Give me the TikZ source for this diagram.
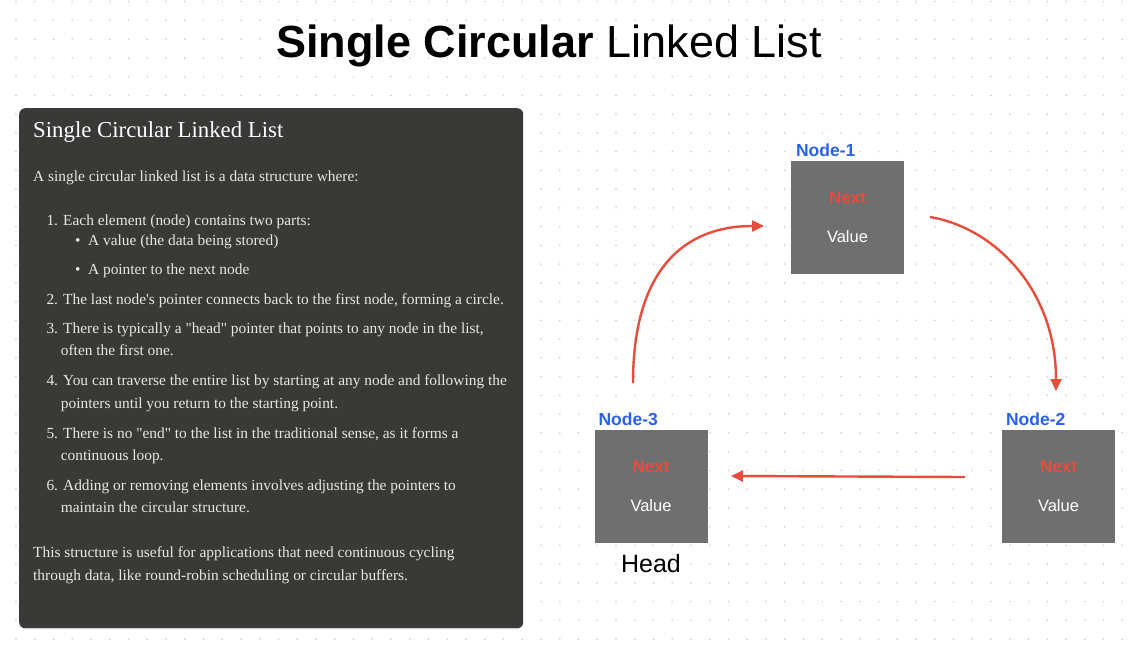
\documentclass[tikz,border=0pt]{standalone}
\usepackage{fontspec}
\usepackage{tikz}
\newfontfamily\headfont{Liberation Sans}
\newfontfamily\panelfont{Liberation Serif}
\definecolor{paneldark}{RGB}{57,57,55}
\definecolor{paneltext}{RGB}{230,230,228}
\definecolor{cellgray}{RGB}{111,111,111}
\definecolor{linkred}{RGB}{232,76,61}
\definecolor{labelblue}{RGB}{40,98,235}
\definecolor{dotgray}{RGB}{212,212,212}
\usetikzlibrary{arrows.meta,positioning,shadows}

\begin{document}
\begin{tikzpicture}[
    x=1pt, y=-1pt,
    cell/.style={rectangle, minimum width=113pt, minimum height=113pt, fill=cellgray, inner sep=0pt},
    nexttxt/.style={font=\headfont\bfseries\fontsize{17}{20}\selectfont, text=linkred},
    valtxt/.style={font=\headfont\fontsize{16.5}{20}\selectfont, text=white},
    tag/.style={font=\headfont\bfseries\fontsize{17.5}{20}\selectfont, text=labelblue, anchor=base west, inner sep=0pt},
    ptext/.style={font=\panelfont\fontsize{15.4}{18}\selectfont, text=paneltext, anchor=base west, inner sep=0pt},
    link/.style={draw=linkred, line width=2.4pt, -{Triangle[length=12pt,width=11pt]}}
]
\useasboundingbox (0,0) rectangle (1132,648);

% dotted canvas
\foreach \i in {0,...,59} {
  \foreach \j in {0,...,34} {
    \fill[dotgray] ({16+\i*18.75},{1.7+\j*18.75}) circle (1pt);
  }
}

\node[anchor=base, font=\headfont\fontsize{45}{50}\selectfont] (title) at (549,57) {{\bfseries Single Circular} Linked List};

% description panel
\node[rectangle, fill=paneldark, rounded corners=6pt, minimum width=504pt, minimum height=520pt, anchor=north west, inner sep=0pt,
      drop shadow={opacity=0.2, shadow xshift=0pt, shadow yshift=-1.5pt}] (panel) at (19,108) {};

\node[ptext, text=white, font=\panelfont\fontsize{22.8}{26}\selectfont] (ptitle) at (33,137) {Single Circular Linked List};
\node[ptext] (pintro) at (33,181) {A single circular linked list is a data structure where:};
\node[ptext] (item1) at (46.3,225) {1. Each element (node) contains two parts:};
\node[ptext] (bul1) at (75,245) {•\hspace{7.5pt}A value (the data being stored)};
\node[ptext] (bul2) at (75,274) {•\hspace{7.5pt}A pointer to the next node};
\node[ptext] (item2) at (46.3,304) {2. The last node's pointer connects back to the first node, forming a circle.};
\node[ptext] (item3) at (46.3,333) {3. There is typically a "head" pointer that points to any node in the list,};
\node[ptext] (item3b) at (60.7,355.7) {often the first one.};
\node[ptext] (item4) at (46.3,385.7) {4. You can traverse the entire list by starting at any node and following the};
\node[ptext] (item4b) at (60.7,408) {pointers until you return to the starting point.};
\node[ptext] (item5) at (46.3,438.7) {5. There is no "end" to the list in the traditional sense, as it forms a};
\node[ptext] (item5b) at (60.7,460.7) {continuous loop.};
\node[ptext] (item6) at (46.3,490) {6. Adding or removing elements involves adjusting the pointers to};
\node[ptext] (item6b) at (60.7,512.7) {maintain the circular structure.};
\node[ptext] (pnote) at (33,557.7) {This structure is useful for applications that need continuous cycling};
\node[ptext] (pnoteb) at (33,580.7) {through data, like round-robin scheduling or circular buffers.};

% list nodes
\node[cell] (n1) at (847.5,217.5) {};
\node[cell] (n2) at (1058.5,486.5) {};
\node[cell] (n3) at (651,486.5) {};

\node[nexttxt] (n1next) at ([yshift=19.5pt]n1.center) {Next};
\node[valtxt] (n1val) at ([yshift=-19.5pt]n1.center) {Value};
\node[nexttxt] (n2next) at ([yshift=19.5pt]n2.center) {Next};
\node[valtxt] (n2val) at ([yshift=-19.5pt]n2.center) {Value};
\node[nexttxt] (n3next) at ([yshift=19.5pt]n3.center) {Next};
\node[valtxt] (n3val) at ([yshift=-19.5pt]n3.center) {Value};

\node[tag] (n1tag) at ([xshift=5pt,yshift=4pt]n1.north west) {Node-1};
\node[tag] (n2tag) at ([xshift=4pt,yshift=4pt]n2.north west) {Node-2};
\node[tag] (n3tag) at ([xshift=4pt,yshift=4pt]n3.north west) {Node-3};

\node[anchor=base, font=\headfont\fontsize{25}{28}\selectfont] (head) at ([yshift=-29pt]n3.south) {Head};

% pointers
\coordinate (a1s) at (633,383);
\coordinate (a1e) at (764,226);
\coordinate (a2s) at (930,217);
\coordinate (a2e) at (1056,391);
\coordinate (a3s) at (965,477);
\coordinate (a3e) at (731,476);

\draw[link] (a1s) .. controls (633,272) and (682,226) .. (a1e);
\draw[link] (a2s) .. controls (995,228) and (1056,290) .. (a2e);
\draw[link] (a3s) -- (a3e);

\end{tikzpicture}
\end{document}
